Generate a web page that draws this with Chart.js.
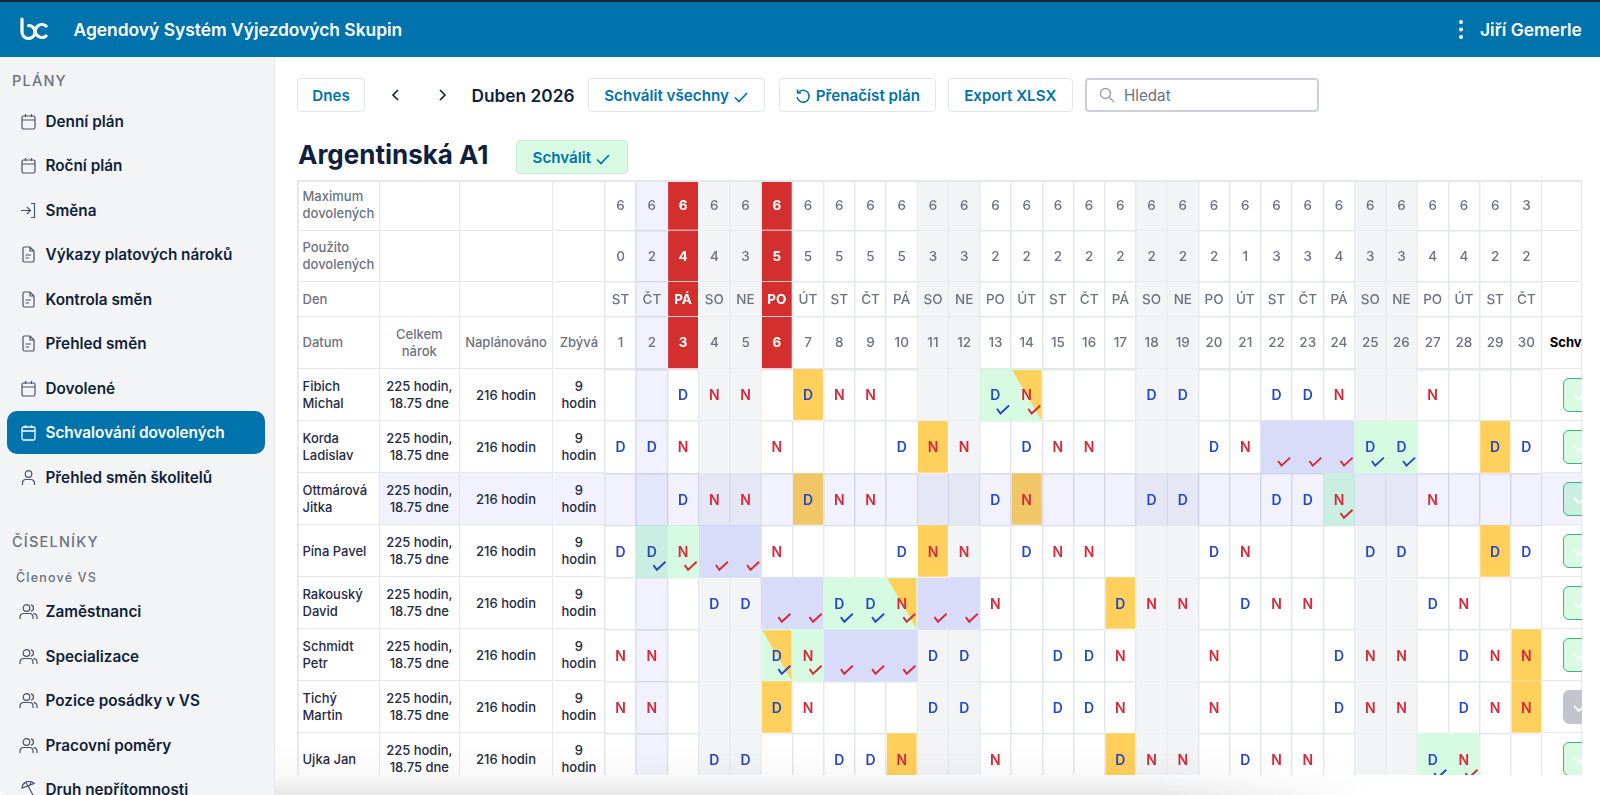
<!DOCTYPE html>
<html lang="cs">
<head>
<meta charset="utf-8">
<title>Schvalování dovolených</title>
<script src="https://cdn.jsdelivr.net/npm/chart.js@4"></script>
<style>
  * { box-sizing: border-box; }
  html, body { margin: 0; width: 1600px; height: 795px; overflow: hidden; background: #fff; font-family: Inter, sans-serif; color: #111f3a; }
  .abs { position: absolute; }
  #topStrip { left: 0; top: 0; width: 1600px; height: 2px; background: #1d2230; }
  #header { left: 0; top: 2px; width: 1600px; height: 55px; background: #0073ad; color: #fff; }
  #sidebar { left: 0; top: 57px; width: 275px; height: 738px; background: #f3f4f6; border-right: 1px solid #e5e7eb; border-bottom-left-radius: 5px; }
  .section { position: absolute; left: 12px; font-size: 14.5px; font-weight: 500; letter-spacing: 1.2px; color: #6b7280; line-height: 18px; }
  .navItem { position: absolute; left: 7px; width: 258px; height: 43px; line-height: 43px; padding-left: 38.5px; font-size: 15.3px; font-weight: 600; white-space: nowrap; }
  .navItem svg { position: absolute; left: 13px; top: 13px; }
  .navItem.active { background: #0073ad; color: #fff; border-radius: 10px; }
  .btn { position: absolute; top: 78px; height: 34px; line-height: 33px; border: 1px solid #e2e5ea; border-radius: 4px; background: #fff; color: #0073ad; font-size: 15.2px; font-weight: 600; text-align: center; white-space: nowrap; }
  .btn svg { vertical-align: -3px; }
  #tableWrap { left: 297px; top: 180px; width: 1285px; height: 595px; overflow: hidden; }
  .cell { position: absolute; display: flex; align-items: center; justify-content: center; text-align: center; font-size: 13px; font-weight: 500; line-height: 17px; color: #1f2a44; border-right: 1.5px solid #e5e7eb; border-bottom: 1.5px solid #e5e7eb; padding: 1px 2px 0; }
  .cell.head { color: #6b7280; }
  .cell.name { justify-content: flex-start; text-align: left; padding-left: 5.5px; }
  .cell.tint { background: #f1f2fe; }
  #planChart { position: absolute; left: 308.3px; top: 0; }
  .approve { position: absolute; left: 1266px; width: 40px; height: 34px; border: 1.5px solid #3cb583; border-radius: 6px; background: #d9fbe3; z-index: 2; }
  .approve svg { position: absolute; left: 9px; top: 11px; }
  #bottomFade { left: 275px; top: 745px; width: 1100px; height: 50px; background: linear-gradient(to bottom, rgba(0,0,0,0), rgba(0,0,0,.025) 60%, rgba(0,0,0,.09)); -webkit-mask-image: linear-gradient(to right, #000 80%, transparent); mask-image: linear-gradient(to right, #000 80%, transparent); }
</style>
</head>
<body>
<div class="abs" id="topStrip"></div>
<div class="abs" id="header">
  <svg class="abs" style="left:20px;top:15px" width="28" height="24" viewBox="0 0 28 24" fill="none" stroke="#fff" stroke-width="3.2" stroke-linecap="round">
    <path d="M2 2 V15 A6.5 6.5 0 1 0 8.5 8.5"/><path d="M26 9 A6.5 6.5 0 1 0 26 19"/>
  </svg>
  <div class="abs" style="left:73.5px;top:17px;font-size:17.4px;font-weight:600;line-height:22px;white-space:nowrap">Agendový Systém Výjezdových Skupin</div>
  <svg class="abs" style="left:1458px;top:17px" width="6" height="22" viewBox="0 0 6 22" fill="#fff"><circle cx="3" cy="3" r="2"/><circle cx="3" cy="10.5" r="2"/><circle cx="3" cy="18" r="2"/></svg>
  <div class="abs" style="left:1480px;top:17px;font-size:17.4px;font-weight:600;line-height:22px;white-space:nowrap">Jiří Gemerle</div>
</div>
<div class="abs" id="sidebar"></div>
<div class="btn" style="left:297px;width:68px">Dnes</div>
<svg class="abs" style="left:390px;top:88px" width="12" height="14" viewBox="0 0 12 14" fill="none" stroke="#111f3a" stroke-width="1.6"><path d="M8 2 L3 7 L8 12"/></svg>
<svg class="abs" style="left:436px;top:88px" width="12" height="14" viewBox="0 0 12 14" fill="none" stroke="#111f3a" stroke-width="1.6"><path d="M4 2 L9 7 L4 12"/></svg>
<div class="abs" style="left:471.5px;top:84.5px;font-size:17.3px;font-weight:600;line-height:22px;white-space:nowrap">Duben 2026</div>
<div class="btn" style="left:588px;width:177px">Schválit všechny <svg width="16" height="14" viewBox="0 0 16 14" fill="none" stroke="#0073ad" stroke-width="1.7"><path d="M2 7.5 L6 11.5 L14 3"/></svg></div>
<div class="btn" style="left:778.5px;width:157px"><svg width="18" height="16" viewBox="0 0 16 16" fill="none" stroke="#0073ad" stroke-width="1.5"><path d="M3.4 4.5 A6 6 0 1 1 2.2 9"/><path d="M2.5 1.5 V5 H6"/></svg> Přenačíst plán</div>
<div class="btn" style="left:948px;width:124.5px">Export XLSX</div>
<div class="btn" style="left:1085px;width:234px;border:2px solid #cdd0d8;color:#6b7280;font-weight:400;text-align:left;padding-left:37px;line-height:31px">Hledat
  <svg class="abs" style="left:12px;top:7px" width="16" height="16" viewBox="0 0 16 16" fill="none" stroke="#9ca3af" stroke-width="1.4"><circle cx="6.5" cy="6.5" r="5"/><path d="M10.3 10.3 L15 15"/></svg>
</div>
<div class="abs" style="left:298px;top:138px;font-size:26px;font-weight:700;line-height:34px;white-space:nowrap;color:#0f1f3d">Argentinská A1</div>
<div class="btn" style="left:516px;top:140px;width:111.5px;background:#d9fbe3;border-color:#c8ecd5">Schválit <svg width="16" height="14" viewBox="0 0 16 14" fill="none" stroke="#0073ad" stroke-width="1.7"><path d="M2 7.5 L6 11.5 L14 3"/></svg></div>
<div class="abs" id="tableWrap"><canvas id="planChart" width="937" height="595"></canvas></div>
<div class="abs" id="bottomFade"></div>

<script>
const dayNumbers = ['1','2','3','4','5','6','7','8','9','10','11','12','13','14','15','16','17','18','19','20','21','22','23','24','25','26','27','28','29','30'];
const dayNames = ['ST','ČT','PÁ','SO','NE','PO','ÚT','ST','ČT','PÁ','SO','NE','PO','ÚT','ST','ČT','PÁ','SO','NE','PO','ÚT','ST','ČT','PÁ','SO','NE','PO','ÚT','ST','ČT'];
const maxLeave = [6,6,6,6,6,6,6,6,6,6,6,6,6,6,6,6,6,6,6,6,6,6,6,6,6,6,6,6,6,3];
const usedLeave = [0,2,4,4,3,5,5,5,5,5,3,3,2,2,2,2,2,2,2,2,1,3,3,4,3,3,4,4,2,2];
const weekendDays = ['4','5','11','12','18','19','25','26'];
const overLimitDays = ['3','6'];
const todayDay = '2';

const employees = ['Fibich Michal','Korda Ladislav','Ottmárová Jitka','Pína Pavel','Rakouský David','Schmidt Petr','Tichý Martin','Ujka Jan'];
const selectedEmployee = 2;
const totalEntitlement = ['225 hodin,','18.75 dne'];
const plannedHours = '216 hodin';
const remainingHours = ['9','hodin'];

// shift letter per day, one array per employee
const fibichShifts  = ['','','D','N','N','','D','N','N','','','','D','N','','','','D','D','','','D','D','N','','','N','','',''];
const kordaShifts   = ['D','D','N','','','N','','','','D','N','N','','D','N','N','','','','D','N','','','','D','D','','','D','D'];
const ottmarShifts  = ['','','D','N','N','','D','N','N','','','','D','N','','','','D','D','','','D','D','N','','','N','','',''];
const pinaShifts    = ['D','D','N','','','N','','','','D','N','N','','D','N','N','','','','D','N','','','','D','D','','','D','D'];
const rakouskyShifts = ['','','','D','D','','','D','D','N','','','N','','','','D','N','N','','D','N','N','','','','D','N','',''];
const schmidtShifts = ['N','N','','','','D','N','','','','D','D','','','D','D','N','','','N','','','','D','N','N','','D','N','N'];
const tichyShifts   = ['N','N','','','','D','N','','','','D','D','','','D','D','N','','','N','','','','D','N','N','','D','N','N'];
const ujkaShifts    = ['','','','D','D','','','D','D','N','','','N','','','','D','N','N','','D','N','N','','','','D','N','',''];
const shiftTable = [fibichShifts, kordaShifts, ottmarShifts, pinaShifts, rakouskyShifts, schmidtShifts, tichyShifts, ujkaShifts];

// cell state per day: y = wish, g = approved, l = approved free day, t = wish + approved
const fibichStates  = ['','','','','','','y','','','','','','g','t','','','','','','','','','','','','','','','',''];
const kordaStates   = ['','','','','','','','','','','y','','','','','','','','','','','l','l','l','g','g','','','y',''];
const ottmarStates  = ['','','','','','','y','','','','','','','y','','','','','','','','','','g','','','','','',''];
const pinaStates    = ['','g','g','l','l','','','','','','y','','','','','','','','','','','','','','','','','','y',''];
const rakouskyStates = ['','','','','','l','l','g','g','t','l','l','','','','','y','','','','','','','','','','','','',''];
const schmidtStates = ['','','','','','t','g','l','l','l','','','','','','','','','','','','','','','','','','','','y'];
const tichyStates   = ['','','','','','y','','','','','','','','','','','','','','','','','','','','','','','','y'];
const ujkaStates    = ['','','','','','','','','','y','','','','','','','y','','','','','','','','','','g','g','',''];
const stateTable = [fibichStates, kordaStates, ottmarStates, pinaStates, rakouskyStates, schmidtStates, tichyStates, ujkaStates];
const rowApprovalDisabled = [false,false,false,false,false,false,true,false];

const headerLabels = ['Maximum dovolených','Použito dovolených','Den','Datum'];
const headerColumns = ['Celkem nárok','Naplánováno','Zbývá'];

// layout only: heights of the table rows, widths of the left columns
const rowHeights = [50.5,51.5,34.7,52.3,52,52.3,52,52,52,52,52,52];
const leftColumnWidths = [83,79.6,93.9,51.8];

const BLUE = '#2447c4', RED = '#d5293a', GREY = '#6b7280';
const LAST_COLUMN_X = 1245.3;
const rowEdges = [0];
rowHeights.forEach(h => rowEdges.push(rowEdges[rowEdges.length - 1] + h));
const band = row => [rowEdges[row], rowEdges[row + 1]];
const FIRST_EMPLOYEE_ROW = 4;

function buildSidebar() {
  const side = document.getElementById('sidebar');
  const stroke = 'currentColor';
  const icons = {
    cal: `<svg width="17" height="17" viewBox="0 0 17 17" fill="none" stroke="${stroke}" stroke-width="1.2" opacity=".75"><rect x="2" y="3" width="13" height="13" rx="1.5"/><path d="M2 7 H15 M5.5 1 V4 M11.5 1 V4"/></svg>`,
    calActive: `<svg width="17" height="17" viewBox="0 0 17 17" fill="none" stroke="#fff" stroke-width="1.3"><rect x="2" y="3" width="13" height="13" rx="1.5"/><path d="M2 7 H15 M5.5 1 V4 M11.5 1 V4"/></svg>`,
    file: `<svg width="17" height="17" viewBox="0 0 17 17" fill="none" stroke="${stroke}" stroke-width="1.2" opacity=".75"><path d="M3 2.5 A1.5 1.5 0 0 1 4.5 1 H10 L14 5 V14.5 A1.5 1.5 0 0 1 12.5 16 H4.5 A1.5 1.5 0 0 1 3 14.5 Z M10 1 V5 H14 M5.5 9 H11 M5.5 12 H9"/></svg>`,
    enter: `<svg width="17" height="17" viewBox="0 0 17 17" fill="none" stroke="${stroke}" stroke-width="1.2" opacity=".75"><path d="M1 8.5 H10 M7 5 L10.5 8.5 L7 12 M11 1.5 H14.5 V15.5 H11"/></svg>`,
    user: `<svg width="17" height="17" viewBox="0 0 17 17" fill="none" stroke="${stroke}" stroke-width="1.2" opacity=".75"><circle cx="8.5" cy="5" r="3.3"/><path d="M2.5 16 V14 A3.5 3.5 0 0 1 6 10.5 H11 A3.5 3.5 0 0 1 14.5 14 V16"/></svg>`,
    users: `<svg width="19" height="17" viewBox="0 0 19 17" fill="none" stroke="${stroke}" stroke-width="1.2" opacity=".75" style="left:12px"><circle cx="7.5" cy="5" r="3.3"/><path d="M1 16 V14 A3.5 3.5 0 0 1 4.5 10.5 H10.5 A3.5 3.5 0 0 1 14 14 V16 M12 1.8 A3.3 3.3 0 0 1 12 8.2 M14.5 10.7 A3.5 3.5 0 0 1 18 14 V16"/></svg>`,
    umbrella: `<svg width="19" height="17" viewBox="0 0 19 17" fill="none" stroke="${stroke}" stroke-width="1.2" opacity=".75" style="left:12px"><path d="M3 7 A7 7 0 0 1 15 2.5 Z M9 4.8 L15 16 M7 2 L9.5 5.5 M12 1.5 L10 5"/></svg>`
  };
  const items = [
    ['Denní plán','cal',121],['Roční plán','cal',165.5],['Směna','enter',210],['Výkazy platových nároků','file',254.5],
    ['Kontrola směn','file',299],['Přehled směn','file',343.5],['Dovolené','cal',388],['Schvalování dovolených','calActive',432.5,true],
    ['Přehled směn školitelů','user',477],['Zaměstnanci','users',611.5],['Specializace','users',656],['Pozice posádky v VS','users',700.5],
    ['Pracovní poměry','users',745],['Druh nepřítomnosti','umbrella',789.5]
  ];
  items.forEach(([text, icon, cy, active]) => {
    const el = document.createElement('div');
    el.className = 'navItem' + (active ? ' active' : '');
    el.style.top = (cy - 21.5 - 57) + 'px';
    el.innerHTML = icons[icon] + text;
    side.appendChild(el);
  });
  [['PLÁNY',12,15],['ČÍSELNÍKY',12,476]].forEach(([text, x, y]) => {
    const el = document.createElement('div');
    el.className = 'section';
    el.style.left = x + 'px';
    el.style.top = y + 'px';
    el.textContent = text;
    side.appendChild(el);
  });
  const sub = document.createElement('div');
  sub.className = 'section';
  sub.style.cssText = 'left:16px;top:512px;font-size:12.5px';
  sub.textContent = 'Členové VS';
  side.appendChild(sub);
}

function addCell(x, y, w, h, html, cls) {
  const el = document.createElement('div');
  el.className = 'cell ' + (cls || '');
  el.style.cssText = `left:${x}px;top:${y}px;width:${w}px;height:${h}px`;
  el.innerHTML = html;
  document.getElementById('tableWrap').appendChild(el);
}

function buildLeftColumns() {
  const xs = [0];
  leftColumnWidths.forEach(w => xs.push(xs[xs.length - 1] + w));
  const wrap = document.getElementById('tableWrap');
  wrap.insertAdjacentHTML('afterbegin', '<div class="abs" style="left:0;top:0;width:1285px;height:1.5px;background:#e5e7eb;z-index:3"></div><div class="abs" style="left:0;top:0;width:1.5px;height:595px;background:#e5e7eb;z-index:3"></div>');
  headerLabels.forEach((label, row) => {
    const [top, bottom] = band(row);
    addCell(xs[0], top, leftColumnWidths[0], bottom - top, label, 'head name');
    for (let c = 1; c < 4; c++) {
      const text = row === 3 ? headerColumns[c - 1] : '';
      addCell(xs[c], top, leftColumnWidths[c], bottom - top, text, 'head');
    }
    addCell(LAST_COLUMN_X, top, 40, bottom - top, row === 3 ? '<b style="color:#000;font-weight:700;white-space:nowrap;position:absolute;left:7.5px">Schválit</b>' : '', '');
  });
  employees.forEach((name, i) => {
    const [top, bottom] = band(FIRST_EMPLOYEE_ROW + i);
    const h = bottom - top;
    const tint = i === selectedEmployee ? 'tint' : '';
    addCell(xs[0], top, leftColumnWidths[0], h, name, 'name');
    addCell(xs[1], top, leftColumnWidths[1], h, totalEntitlement.join('<br>'), tint);
    addCell(xs[2], top, leftColumnWidths[2], h, plannedHours, tint);
    addCell(xs[3], top, leftColumnWidths[3], h, remainingHours.join('<br>'), tint);
    addCell(LAST_COLUMN_X, top, 40, h, '', tint);
    const btn = document.createElement('div');
    btn.className = 'approve';
    btn.style.top = (top + h / 2 - 17) + 'px';
    if (rowApprovalDisabled[i]) { btn.style.background = '#c2c5ce'; btn.style.borderColor = '#c2c5ce'; }
    if (i === selectedEmployee) btn.style.background = '#c9efe0';
    btn.innerHTML = '<svg width="14" height="12" viewBox="0 0 14 12" fill="none" stroke="#fff" stroke-width="1.8"><path d="M1 4 L6 9 L12 3"/></svg>';
    wrap.appendChild(btn);
  });
}

// floating bars for the cell backgrounds, all placed through the two scales
const cellsByState = { y: [], g: [], l: [], t: [] };
stateTable.forEach((states, i) => {
  states.forEach((state, d) => {
    if (state) cellsByState[state].push({ x: dayNumbers[d], y: band(FIRST_EMPLOYEE_ROW + i) });
  });
});
const redCells = [];
overLimitDays.forEach(day => {
  for (let r = 0; r < FIRST_EMPLOYEE_ROW; r++) redCells.push({ x: day, y: band(r) });
});
const weekendCells = [];
weekendDays.forEach(day => {
  rowHeights.forEach((h, r) => weekendCells.push({ x: day, y: band(r) }));
});
const todayCells = [{ x: todayDay, y: [rowEdges[0], rowEdges[rowEdges.length - 1]] }];
const selectedCells = dayNumbers.map(day => ({ x: day, y: band(FIRST_EMPLOYEE_ROW + selectedEmployee) }));

function barSet(label, data, color, order, extra) {
  return Object.assign({
    label, data, backgroundColor: color, order,
    grouped: false, barPercentage: 1, categoryPercentage: 1, borderWidth: 0
  }, extra || {});
}

const cellTextPlugin = {
  id: 'cellText',
  afterDatasetsDraw(chart) {
    const { ctx, chartArea, scales: { x, y } } = chart;
    const centerY = row => y.getPixelForValue((rowEdges[row] + rowEdges[row + 1]) / 2);
    const bandTop = row => y.getPixelForValue(rowEdges[row]);
    const bandBottom = row => y.getPixelForValue(rowEdges[row + 1]);
    const halfCol = (x.getPixelForValue(1) - x.getPixelForValue(0)) / 2;

    ctx.save();
    ctx.beginPath();
    ctx.rect(chartArea.left, chartArea.top, chartArea.right - chartArea.left, chartArea.bottom - chartArea.top);
    ctx.clip();
    ctx.textAlign = 'center';
    ctx.textBaseline = 'middle';

    const headerRows = [maxLeave, usedLeave, dayNames, dayNumbers];
    headerRows.forEach((values, r) => {
      values.forEach((value, d) => {
        const red = overLimitDays.includes(dayNumbers[d]);
        ctx.font = (red ? '700 ' : '500 ') + '13.5px Inter, sans-serif';
        ctx.fillStyle = red ? '#fff' : GREY;
        ctx.fillText(String(value), x.getPixelForValue(d), centerY(r) + 0.5);
      });
    });

    shiftTable.forEach((shifts, i) => {
      const row = FIRST_EMPLOYEE_ROW + i;
      shifts.forEach((letter, d) => {
        const cx = x.getPixelForValue(d);
        const color = letter === 'D' ? BLUE : RED;
        const state = stateTable[i][d];
        if (state === 't') {
          // yellow corner over the green cell
          ctx.fillStyle = '#ffd05c';
          ctx.beginPath();
          ctx.moveTo(cx - halfCol + 1, bandTop(row) + 1);
          ctx.lineTo(cx + halfCol - 1, bandTop(row) + 1);
          ctx.lineTo(cx + halfCol - 1, bandBottom(row) - 1);
          ctx.closePath();
          ctx.fill();
        }
        if (letter) {
          ctx.font = '600 14px Inter, sans-serif';
          ctx.fillStyle = color;
          ctx.fillText(letter, cx, centerY(row) + 1);
        }
        if (state && state !== 'y') {
          const ox = cx + 7.3, oy = centerY(row) + 14.5;
          ctx.strokeStyle = state === 'l' ? RED : color;
          ctx.lineWidth = 1.9;
          ctx.beginPath();
          ctx.moveTo(ox - 5.7, oy - 0.7);
          ctx.lineTo(ox - 2.3, oy + 4);
          ctx.lineTo(ox + 6.3, oy - 4);
          ctx.stroke();
        }
      });
    });
    ctx.restore();
  }
};

function drawPlan() {
  const canvas = document.getElementById('planChart');
  new Chart(canvas, {
    type: 'bar',
    plugins: [cellTextPlugin],
    data: {
      labels: dayNumbers,
      datasets: [
        barSet('Vybraný zaměstnanec', selectedCells, 'rgba(79,86,230,.08)', 1),
        barSet('Dnes', todayCells, 'rgba(79,86,230,.08)', 2),
        barSet('Nad limit', redCells, '#d32f2f', 3, { borderWidth: 1, borderColor: '#fff' }),
        barSet('Přání', cellsByState.y, '#ffd05c', 4, { borderWidth: 1, borderColor: '#fff' }),
        barSet('Schváleno', cellsByState.g, '#d6fbe2', 5),
        barSet('Přání a schváleno', cellsByState.t, '#d6fbe2', 5),
        barSet('Schváleno volno', cellsByState.l, '#d9dcf9', 6),
        barSet('Víkend', weekendCells, '#f3f4f6', 7, { borderWidth: 0.75, borderColor: '#e5e7eb' })
      ]
    },
    options: {
      responsive: false,
      animation: false,
      events: [],
      layout: { padding: 0 },
      plugins: { legend: { display: false }, tooltip: { enabled: false } },
      scales: {
        x: {
          type: 'category',
          position: 'top',
          ticks: { display: false },
          border: { display: false },
          grid: { color: '#e5e7eb', lineWidth: 1.5, drawTicks: false, offset: true }
        },
        y: {
          type: 'linear',
          reverse: true,
          min: 0,
          max: 595,
          afterBuildTicks: scale => {
            scale.ticks = rowEdges.filter(v => v <= 595).map(value => ({ value }));
          },
          ticks: { display: false },
          border: { display: false },
          grid: {
            drawTicks: false,
            color: '#e5e7eb',
            lineWidth: c => (c.tick && c.tick.value === rowEdges[FIRST_EMPLOYEE_ROW] ? 2.5 : 1.5)
          }
        }
      }
    }
  });
}

buildSidebar();
buildLeftColumns();
document.getElementById('tableWrap').appendChild(document.getElementById('planChart'));
drawPlan();
</script>
</body>
</html>
